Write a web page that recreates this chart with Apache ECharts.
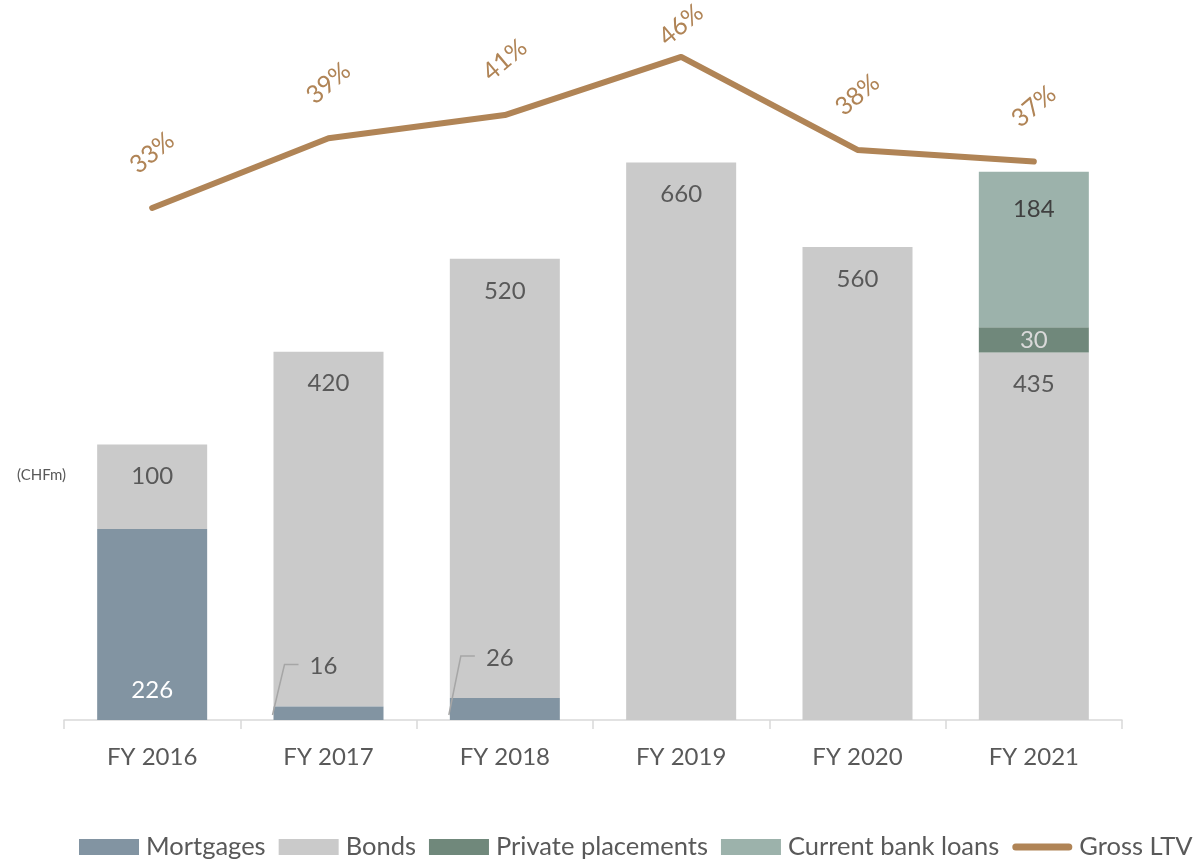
<!DOCTYPE html>
<html>
<head>
<meta charset="utf-8">
<script src="https://cdn.jsdelivr.net/npm/echarts@6/dist/echarts.min.js"></script>
<style>
  html, body { margin: 0; padding: 0; background: #ffffff; }
  #chart { width: 1197px; height: 862px; }
</style>
</head>
<body>
<div id="chart"></div>
<script>
// Financing structure by year (CHF millions) and gross loan-to-value (%)
const years = ['FY 2016', 'FY 2017', 'FY 2018', 'FY 2019', 'FY 2020', 'FY 2021'];
const mortgages = [226, 16, 26, 0, 0, 0];
const bonds = [100, 420, 520, 660, 560, 435];
const privatePlacements = [0, 0, 0, 0, 0, 30];
const currentBankLoans = [0, 0, 0, 0, 0, 184];
const grossLtv = [33, 39, 41, 46, 38, 37];

const FONT = 'Lato, "Open Sans", sans-serif';
const TEXT = '#595959';
const C_MORT = '#8294A2';
const C_BOND = '#CACACA';
const C_PRIV = '#70887B';
const C_BANK = '#9CB2AB';
const C_LTV = '#B08456';
const BAR_W = 110;
const SMALL = 30; // segments below this value get an outside label

const hideZero = p => (p.value ? String(p.value) : '');
const ltvMax = Math.max.apply(null, grossLtv);

const chart = echarts.init(document.getElementById('chart'), null, { renderer: 'canvas' });

chart.setOption({
  backgroundColor: '#ffffff',
  animation: false,
  textStyle: { fontFamily: FONT },
  title: {
    text: '(CHFm)',
    left: 12,
    top: 463,
    textStyle: { fontFamily: FONT, fontSize: 15, fontWeight: 'normal', color: TEXT }
  },
  grid: { left: 64, right: 75, top: 40, bottom: 142 },
  legend: {
    left: 79,
    top: 834,
    width: 1118,
    padding: 0,
    itemWidth: 60,
    itemHeight: 16,
    itemGap: 13,
    textStyle: { fontFamily: FONT, fontSize: 25.5, color: TEXT, padding: [0, 0, 0, 2] },
    data: [
      { name: 'Mortgages', icon: 'rect' },
      { name: 'Bonds', icon: 'rect' },
      { name: 'Private placements', icon: 'rect' },
      { name: 'Current bank loans', icon: 'rect' },
      { name: 'Gross LTV', icon: 'path://M3.5,0 L56.5,0 A3.5,3.5 0 0 1 56.5,7 L3.5,7 A3.5,3.5 0 0 1 3.5,0 Z' }
    ]
  },
  xAxis: {
    type: 'category',
    data: years,
    boundaryGap: true,
    axisLine: { lineStyle: { color: '#D9D9D9', width: 1.5 } },
    axisTick: { show: true, length: 9, lineStyle: { color: '#D9D9D9', width: 1.5 } },
    axisLabel: { fontFamily: FONT, fontSize: 24, color: TEXT, margin: 25 }
  },
  yAxis: [
    { type: 'value', min: 0, max: 805, show: false, splitLine: { show: false } },
    { type: 'value', min: -11.08, max: 47.46, show: false, splitLine: { show: false } }
  ],
  series: [
    {
      name: 'Mortgages',
      type: 'bar',
      stack: 'debt',
      barWidth: BAR_W,
      data: mortgages,
      itemStyle: { color: C_MORT },
      label: {
        show: true,
        position: 'insideBottom',
        distance: 18,
        formatter: p => (!p.value ? '' : p.value < SMALL ? '{s|' + p.value + '}' : String(p.value)),
        fontFamily: FONT,
        fontSize: 24,
        color: '#FFFFFF',
        rich: { s: { fontFamily: FONT, fontSize: 24, color: TEXT } }
      },
      // Thin segments get their value placed above-right of the bar's left edge
      labelLayout: function (p) {
        if (p.rect.height <= 0 || p.rect.height >= SMALL) return {};
        return {
          x: p.rect.x + 50,
          y: p.rect.y - 40,
          align: 'center',
          verticalAlign: 'middle'
        };
      },
      z: 2
    },
    {
      name: 'Bonds',
      type: 'bar',
      stack: 'debt',
      barWidth: BAR_W,
      data: bonds,
      itemStyle: { color: C_BOND },
      label: {
        show: true,
        position: 'insideTop',
        distance: 20,
        formatter: hideZero,
        fontFamily: FONT,
        fontSize: 24,
        color: TEXT
      },
      z: 1
    },
    {
      name: 'Private placements',
      type: 'bar',
      stack: 'debt',
      barWidth: BAR_W,
      data: privatePlacements,
      itemStyle: { color: C_PRIV },
      label: {
        show: true,
        position: 'inside',
        formatter: hideZero,
        fontFamily: FONT,
        fontSize: 24,
        color: '#D9D9D9'
      }
    },
    {
      name: 'Current bank loans',
      type: 'bar',
      stack: 'debt',
      barWidth: BAR_W,
      data: currentBankLoans,
      itemStyle: { color: C_BANK },
      label: {
        show: true,
        position: 'insideTop',
        distance: 25,
        formatter: hideZero,
        fontFamily: FONT,
        fontSize: 24,
        color: '#404040'
      }
    },
    {
      // Leader lines from thin mortgage segments to their outside labels
      name: 'leader',
      type: 'custom',
      silent: true,
      z: 4,
      data: mortgages.map((v, i) => [i, v]),
      encode: { x: 0, y: 1 },
      renderItem: function (params, api) {
        const v = api.value(1);
        if (!(v > 0 && v < SMALL)) return null;
        const base = api.coord([api.value(0), 0]);
        const top = api.coord([api.value(0), v]);
        const left = base[0] - BAR_W / 2;
        const ly = top[1] - 42;
        return {
          type: 'polyline',
          shape: { points: [[left - 1, base[1] - 5], [left + 11, ly], [left + 25, ly]] },
          style: { stroke: '#A6A6A6', lineWidth: 1.5, fill: null }
        };
      }
    },
    {
      name: 'Gross LTV',
      type: 'line',
      yAxisIndex: 1,
      symbol: 'circle',
      symbolSize: 0.1,
      showSymbol: true,
      lineStyle: { color: C_LTV, width: 6, cap: 'round', join: 'round' },
      itemStyle: { color: C_LTV },
      data: grossLtv.map(v => ({
        value: v,
        // the peak label sits closer to the line so it stays on the canvas
        label: { distance: v === ltvMax ? 32 : 55 }
      })),
      label: {
        show: true,
        position: 'top',
        distance: 55,
        rotate: 40,
        align: 'center',
        verticalAlign: 'middle',
        formatter: '{c}%',
        fontFamily: FONT,
        fontSize: 25,
        color: C_LTV
      },
      z: 5
    }
  ]
});
</script>
</body>
</html>
